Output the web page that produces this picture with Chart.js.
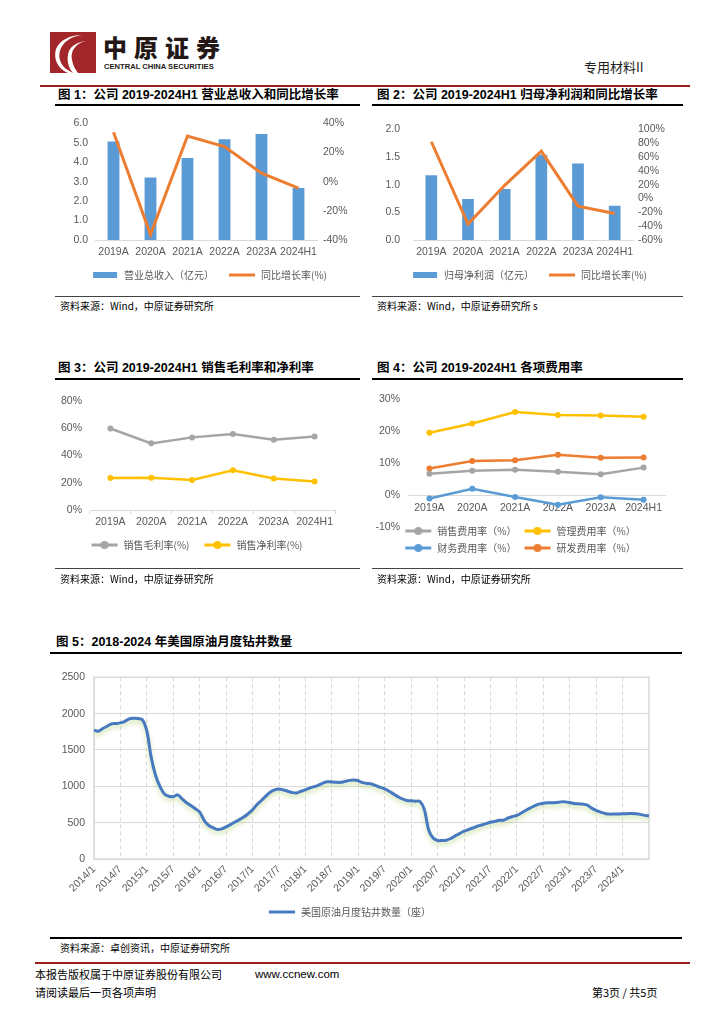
<!DOCTYPE html>
<html><head><meta charset="utf-8">
<script src="https://cdn.jsdelivr.net/npm/chart.js@4.4.1/dist/chart.umd.min.js"></script>
<style>
body{margin:0;width:724px;height:1024px;position:relative;background:#fff;overflow:hidden;font-family:"Noto Sans CJK SC",sans-serif;color:#000}
.a{position:absolute;white-space:nowrap}
.ttl{position:absolute;font-size:12.5px;line-height:14px;font-weight:bold;font-family:"Liberation Sans","Noto Sans CJK SC",sans-serif;white-space:nowrap}
.bar{position:absolute;background:#000}
.src{position:absolute;font-size:10px;line-height:12px;white-space:nowrap}
canvas{position:absolute}
</style></head><body>

<!-- header -->
<svg class="a" style="left:50px;top:32px" width="46" height="41" viewBox="0 0 46 41">
  <rect width="46" height="41" fill="#a3262b"/>
  <path d="M32 3 C16 5 7 16 10 28 C12 35 18 39 24 41 L18 41 C8 37 3 27 6 17 C10 8 20 3 32 3Z" fill="#fff"/>
  <path d="M36 9 C26 11 20 19 22 28 C23 33 25 37 28 41 L23 41 C18 35 16 27 19 19 C22 13 28 10 36 9Z" fill="#fff"/>
</svg>
<div class="a" style="left:103px;top:33px;font-size:24px;line-height:28px;font-weight:900;letter-spacing:7px;color:#231815">中原证券</div>
<div class="a" style="left:104px;top:62px;font-size:7.6px;line-height:9px;font-weight:bold;font-family:'Liberation Sans',sans-serif;color:#231815">CENTRAL CHINA SECURITIES</div>
<div class="a" style="left:584px;top:59px;font-size:13px;line-height:16px;color:#222">专用材料II</div>
<div class="bar" style="left:40px;top:85px;width:650px;height:2px;background:#9b1d20"></div>

<!-- row 1 -->
<div class="ttl" style="left:58px;top:88px">图 1：公司 2019-2024H1 营业总收入和同比增长率</div>
<div class="bar" style="left:55px;top:104px;width:305px;height:2px"></div>
<div class="ttl" style="left:377px;top:88px">图 2：公司 2019-2024H1 归母净利润和同比增长率</div>
<div class="bar" style="left:372px;top:104px;width:311px;height:2px"></div>
<canvas id="c1" width="302" height="180" style="left:58px;top:110px"></canvas>
<canvas id="c2" width="308" height="180" style="left:375px;top:110px"></canvas>
<div class="bar" style="left:55px;top:296px;width:305px;height:1px;background:#444"></div>
<div class="bar" style="left:372px;top:296px;width:311px;height:1px;background:#444"></div>
<div class="src" style="left:60px;top:300px">资料来源：Wind，中原证券研究所</div>
<div class="src" style="left:377px;top:300px">资料来源：Wind，中原证券研究所 s</div>

<!-- row 2 -->
<div class="ttl" style="left:58px;top:361px">图 3：公司 2019-2024H1 销售毛利率和净利率</div>
<div class="bar" style="left:55px;top:378px;width:305px;height:2px"></div>
<div class="ttl" style="left:377px;top:361px">图 4：公司 2019-2024H1 各项费用率</div>
<div class="bar" style="left:372px;top:378px;width:311px;height:2px"></div>
<canvas id="c3" width="300" height="175" style="left:58px;top:385px"></canvas>
<canvas id="c4" width="305" height="186" style="left:375px;top:385px"></canvas>
<div class="bar" style="left:55px;top:568px;width:305px;height:1px;background:#444"></div>
<div class="bar" style="left:372px;top:568px;width:311px;height:1px;background:#444"></div>
<div class="src" style="left:60px;top:573px">资料来源：Wind，中原证券研究所</div>
<div class="src" style="left:377px;top:573px">资料来源：Wind，中原证券研究所</div>

<!-- row 3 -->
<div class="ttl" style="left:56px;top:635px">图 5：2018-2024 年美国原油月度钻井数量</div>
<div class="bar" style="left:50px;top:652px;width:632px;height:2px"></div>
<canvas id="c5" width="640" height="265" style="left:50px;top:662px"></canvas>
<div class="bar" style="left:50px;top:937px;width:632px;height:2px"></div>
<div class="src" style="left:60px;top:942px">资料来源：卓创资讯，中原证券研究所</div>

<!-- footer -->
<div class="bar" style="left:35px;top:962px;width:655px;height:2px;background:#9b1d20"></div>
<div class="a" style="left:35px;top:967px;font-size:11px;line-height:14px">本报告版权属于中原证券股份有限公司</div>
<div class="a" style="left:255px;top:967px;font-size:11.5px;line-height:14px;font-family:'Liberation Sans',sans-serif">www.ccnew.com</div>
<div class="a" style="left:35px;top:985px;font-size:11px;line-height:14px">请阅读最后一页各项声明</div>
<div class="a" style="left:592px;top:985px;font-size:11px;line-height:14px">第3页 / 共5页</div>

<script>
// 2019-2024H1 company figures
const years = ['2019A', '2020A', '2021A', '2022A', '2023A', '2024H1'];
const revenue = [5.06, 3.21, 4.21, 5.18, 5.45, 2.67];
const revenueYoy = [33.8, -36.3, 31.3, 24.0, 5.8, -4.4];
const netProfit = [1.17, 0.74, 0.92, 1.54, 1.38, 0.62];
const netProfitYoy = [82, -37, 19, 68.5, -11, -21.8];
const grossMargin = [59.8, 48.9, 53.3, 55.7, 51.6, 54.0];
const netMargin = [23.4, 23.6, 22.1, 29.2, 23.1, 20.9];
const sellingRate = [6.7, 7.6, 7.9, 7.3, 6.5, 8.6];
const adminRate = [19.5, 22.4, 26.0, 25.1, 24.9, 24.5];
const financeRate = [-1.1, 2.0, -0.6, -3.0, -0.7, -1.5];
const rdRate = [8.3, 10.7, 10.9, 12.6, 11.7, 11.8];

// US oil rigs, monthly 2014/1 - 2024/7
const rigCount = [
  1773, 1759, 1795, 1827, 1859, 1864, 1873, 1895, 1927, 1936, 1932, 1914,
  1759, 1395, 1145, 995, 895, 864, 859, 882, 827, 773, 736, 691,
  645, 532, 464, 432, 405, 414, 441, 473, 509, 541, 577, 623,
  677, 750, 805, 864, 918, 950, 964, 950, 932, 914, 909, 932,
  950, 977, 995, 1018, 1045, 1064, 1059, 1055, 1055, 1068, 1082, 1086,
  1077, 1050, 1040, 1032, 1009, 986, 964, 932, 895, 859, 827, 805,
  800, 795, 791, 680, 395, 288, 255, 255, 259, 282, 318, 350,
  382, 405, 427, 450, 468, 486, 505, 518, 532, 534, 564, 584,
  600, 632, 668, 700, 732, 755, 768, 773, 773, 777, 786, 786,
  777, 764, 759, 755, 741, 700, 668, 645, 627, 618, 618, 618,
  623, 623, 627, 623, 614, 600, 591
];
const rigMonths = [];
for (let y = 2014; y <= 2024; y++)
  for (let m = 1; m <= 12; m++)
    if (rigMonths.length < rigCount.length) rigMonths.push(y + '/' + m);

const BLUE = '#5b9bd5', ORANGE = '#ed7d31', GRAY = '#a5a5a5', GOLD = '#ffc000', RIG = '#4679bf';
const cjk = '"Noto Sans CJK SC", sans-serif';

Chart.defaults.animation = false;
Chart.defaults.responsive = false;
Chart.defaults.color = '#595959';
Chart.defaults.font.family = '"Liberation Sans", Arial, sans-serif';
Chart.defaults.font.size = 10.5;
Chart.defaults.plugins.tooltip.enabled = false;

const fix = n => s => { if (s.isHorizontal()) s.height = n; else s.width = n; };

function icon(color, kind) {
  const c = document.createElement('canvas');
  c.width = 28; c.height = 10;
  const g = c.getContext('2d');
  if (kind === 'bar') {
    g.fillStyle = color; g.fillRect(2, 2, 24, 6);
  } else {
    g.strokeStyle = color; g.lineWidth = 3;
    g.beginPath(); g.moveTo(1, 5); g.lineTo(27, 5); g.stroke();
    if (kind === 'dot') { g.fillStyle = color; g.beginPath(); g.arc(14, 5, 4, 0, Math.PI * 2); g.fill(); }
  }
  return c;
}

function legend(icons, pad) {
  return {
    position: 'bottom',
    labels: {
      usePointStyle: true, pointStyleWidth: 28, padding: pad, color: '#595959',
      font: { size: 10, family: cjk },
      sort: (a, b) => a.datasetIndex - b.datasetIndex,
      generateLabels: ch => Chart.defaults.plugins.legend.labels.generateLabels(ch)
        .map(it => Object.assign(it, { pointStyle: icons[it.datasetIndex] }))
    }
  };
}

const flatTicks = { maxRotation: 0, minRotation: 0, autoSkip: false };

function barLine(id, barLabel, bars, line, yMax, yStep, rMin, rMax, left, right, lPad, rPad) {
  new Chart(document.getElementById(id), {
    type: 'bar',
    data: {
      labels: years,
      datasets: [
        { label: barLabel, data: bars, backgroundColor: BLUE, order: 2, barPercentage: 0.32, categoryPercentage: 1 },
        { type: 'line', label: '同比增长率(%)', data: line, yAxisID: 'y1', order: 1,
          borderColor: ORANGE, backgroundColor: ORANGE, borderWidth: 3, pointRadius: 0 }
      ]
    },
    options: {
      layout: { padding: { top: 12, left: 0, right: 0, bottom: 0 } },
      scales: {
        x: { grid: { display: false, drawTicks: false }, border: { color: '#d9d9d9' },
             ticks: { ...flatTicks, padding: 6 }, afterFit: fix(16) },
        y: { min: 0, max: yMax, grid: { display: false, drawTicks: false }, border: { display: false },
             ticks: { autoSkip: false, stepSize: yStep, padding: lPad, callback: v => v.toFixed(1) }, afterFit: fix(left) },
        y1: { position: 'right', min: rMin, max: rMax, grid: { display: false, drawTicks: false }, border: { display: false },
              ticks: { autoSkip: false, stepSize: 20, padding: rPad, callback: v => v + '%' }, afterFit: fix(right) }
      },
      plugins: { legend: legend([icon(BLUE, 'bar'), icon(ORANGE, 'line')], 14) }
    }
  });
}

barLine('c1', '营业总收入（亿元）', revenue, revenueYoy, 6, 1, -40, 40, 37, 43, 7, 6);
barLine('c2', '归母净利润（亿元）', netProfit, netProfitYoy, 2, 0.5, -60, 100, 38, 50, 13, 5);

function dotLine(label, data, color) {
  return { label, data, borderColor: color, backgroundColor: color, borderWidth: 2.5,
           pointRadius: 3, pointBorderWidth: 0, pointBackgroundColor: color };
}

new Chart(document.getElementById('c3'), {
  type: 'line',
  data: {
    labels: years,
    datasets: [dotLine('销售毛利率(%)', grossMargin, GRAY), dotLine('销售净利率(%)', netMargin, GOLD)]
  },
  options: {
    layout: { padding: { top: 16, left: 0, right: 23, bottom: 0 } },
    scales: {
      x: { offset: true, grid: { offset: true, drawOnChartArea: false, tickLength: 4, color: '#d9d9d9' },
           border: { color: '#d9d9d9' }, ticks: { ...flatTicks, padding: 2 }, afterFit: fix(16) },
      y: { min: 0, max: 80, grid: { display: false, drawTicks: false }, border: { display: false },
           ticks: { stepSize: 20, padding: 8, callback: v => v + '%' }, afterFit: fix(32) }
    },
    plugins: { legend: legend([icon(GRAY, 'dot'), icon(GOLD, 'dot')], 14) }
  }
});

new Chart(document.getElementById('c4'), {
  type: 'line',
  data: {
    labels: years,
    datasets: [
      dotLine('销售费用率（%）', sellingRate, GRAY),
      dotLine('管理费用率（%）', adminRate, GOLD),
      dotLine('财务费用率（%）', financeRate, BLUE),
      dotLine('研发费用率（%）', rdRate, ORANGE)
    ]
  },
  options: {
    layout: { padding: { top: 9, left: 0, right: 15, bottom: 0 } },
    scales: {
      x: { position: { y: 0 }, offset: true, grid: { display: false, drawTicks: false },
           border: { color: '#d9d9d9' }, ticks: { ...flatTicks, padding: 7 } },
      y: { min: -10, max: 30, grid: { display: false, drawTicks: false }, border: { display: false },
           ticks: { stepSize: 10, padding: 8, callback: v => v + '%' }, afterFit: fix(33) }
    },
    plugins: {
      legend: legend([icon(GRAY, 'dot'), icon(GOLD, 'dot'), icon(BLUE, 'dot'), icon(ORANGE, 'dot')], 7)
    }
  },
  plugins: [{ id: 'liftLegend', afterLayout(c) { c.legend.top -= 8; c.legend.bottom -= 8; } }]
});

const frame = {
  id: 'frame',
  beforeDatasetsDraw(c) {
    const { ctx, chartArea: a } = c;
    ctx.save(); ctx.strokeStyle = '#d9d9d9'; ctx.lineWidth = 1.5;
    ctx.strokeRect(a.left, a.top, a.right - a.left, a.bottom - a.top);
    ctx.restore();
  }
};
const glow = {
  id: 'glow',
  beforeDatasetDraw(c) {
    const ctx = c.ctx;
    ctx.save(); ctx.shadowColor = 'rgba(175,210,120,0.6)'; ctx.shadowBlur = 4; ctx.shadowOffsetY = 3;
  },
  afterDatasetDraw(c) { c.ctx.restore(); }
};

new Chart(document.getElementById('c5'), {
  type: 'line',
  data: {
    labels: rigMonths,
    datasets: [{ label: '美国原油月度钻井数量（座）', data: rigCount, borderColor: RIG, backgroundColor: RIG,
                 borderWidth: 3, pointRadius: 0, tension: 0.35 }]
  },
  options: {
    layout: { padding: { top: 14, left: 0, right: 41, bottom: 0 } },
    scales: {
      x: { grid: { color: '#d9d9d9', drawTicks: false }, border: { color: '#d9d9d9', dash: [4, 3] },
           ticks: { autoSkip: false, minRotation: 45, maxRotation: 45, padding: 4,
                    callback: (v, i) => (i < rigMonths.length - 1 && /\/(1|7)$/.test(rigMonths[i])) ? rigMonths[i] : null },
           afterFit: fix(42) },
      y: { min: 0, max: 2500, grid: { color: '#d9d9d9', drawTicks: false }, border: { color: '#d9d9d9' },
           ticks: { stepSize: 500, padding: 9, callback: v => String(v) }, afterFit: fix(44) }
    },
    plugins: { legend: legend([icon(RIG, 'line')], 6) }
  },
  plugins: [frame, glow]
});
</script>
</body></html>
